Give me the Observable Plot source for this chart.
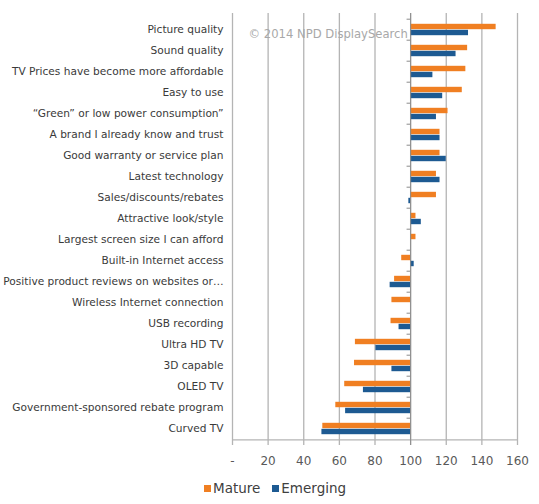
<!DOCTYPE html>
<html>
<head>
<meta charset="utf-8">
<script src="https://cdn.jsdelivr.net/npm/d3@7"></script>
<script src="https://cdn.jsdelivr.net/npm/@observablehq/plot@0.6"></script>
<style>
  html, body { margin: 0; padding: 0; background: #fff; }
  #chart { width: 539px; }
  .legend { display: flex; justify-content: flex-start; align-items: center; height: 32px; padding-left: 204px; font-family: "DejaVu Sans", sans-serif; font-size: 13.5px; color: #404040; }
  .legend span.sw { display: inline-block; width: 7px; height: 7px; margin-right: 2px; }
  .legend .item { display: flex; align-items: center; margin-right: 12px; }
</style>
</head>
<body>
<div id="chart"></div>
<script>
const categories = [
  "Picture quality",
  "Sound quality",
  "TV Prices have become more affordable",
  "Easy to use",
  "\u201cGreen\u201d or low power consumption\u201d",
  "A brand I already know and trust",
  "Good warranty or service plan",
  "Latest technology",
  "Sales/discounts/rebates",
  "Attractive look/style",
  "Largest screen size I can afford",
  "Built-in Internet access",
  "Positive product reviews on websites or\u2026",
  "Wireless Internet connection",
  "USB recording",
  "Ultra HD TV",
  "3D capable",
  "OLED TV",
  "Government-sponsored rebate program",
  "Curved TV"
];
const series = ["Mature", "Emerging"];
const mature   = [148, 132, 131, 129, 121, 116.5, 116.5, 114.5, 114.5, 103, 103, 95, 91, 89.5, 89, 69, 68.5, 63, 58, 50.7];
const emerging = [132.5, 125.5, 112.5, 118, 114.5, 116.5, 120, 116.5, 99, 106, 100, 102, 88.5, 100, 93.5, 80.5, 89.5, 73.5, 63.5, 50.2];
const xTicks = [0, 20, 40, 60, 80, 100, 120, 140, 160];
const baseline = 100;
const colors = ["#F07F22", "#1D5A92"];

const rows = [];
categories.forEach((c, i) => {
  rows.push({cat: c, series: "Mature", value: mature[i]});
  rows.push({cat: c, series: "Emerging", value: emerging[i]});
});

const H = 472, MT = 13, MB = 27;
const step = (H - MT - MB) / categories.length;
const barH = 6;

const plot = Plot.plot({
  width: 539,
  height: H,
  marginLeft: 232,
  marginRight: 22,
  marginTop: MT,
  marginBottom: MB,
  style: {fontFamily: "DejaVu Sans, sans-serif", background: "#fff"},
  x: {domain: [0, 160], ticks: xTicks},
  y: {domain: categories, padding: 0},
  color: {domain: series, range: colors},
  marks: [
    Plot.ruleX(xTicks, {stroke: "#b4b4b4", strokeWidth: 1.3}),
    Plot.ruleY([categories[categories.length - 1]], {x1: 0, x2: 160, dy: step / 2, stroke: "#b4b4b4", strokeWidth: 1.3}),
    Plot.barX(rows.filter(d => d.series === "Mature"), {
      y: "cat", x1: baseline, x2: "value", fill: colors[0],
      insetTop: step / 2 - barH, insetBottom: step / 2
    }),
    Plot.barX(rows.filter(d => d.series === "Emerging"), {
      y: "cat", x1: baseline, x2: "value", fill: colors[1],
      insetTop: step / 2, insetBottom: step / 2 - barH
    }),
    Plot.ruleX([baseline], {stroke: "#8c8c8c", strokeWidth: 1}),
    Plot.ruleY(categories, {y: d => d, x1: baseline - 2, x2: baseline, dy: -step / 2, stroke: "#8c8c8c"}),
    Plot.axisX({ticks: xTicks, tickSize: 0, tickPadding: 11, fontSize: 12, fill: "#595959", label: null,
      tickFormat: d => d === 0 ? "-" : String(d)}),
    Plot.axisY({tickSize: 0, tickPadding: 9, fontSize: 10.6, fill: "#3a3a3a", textOverflow: null, label: null}),
    Plot.text(["\u00a9 2014 NPD DisplaySearch"], {frameAnchor: "top-left", dx: 16, dy: 16, text: d => d,
      fill: "#a8a8a8", fontSize: 11.6, textAnchor: "start"})
  ]
});
document.getElementById("chart").appendChild(plot);

const legend = document.createElement("div");
legend.className = "legend";
series.forEach((s, i) => {
  const item = document.createElement("div");
  item.className = "item";
  const sw = document.createElement("span");
  sw.className = "sw";
  sw.style.background = colors[i];
  item.appendChild(sw);
  item.appendChild(document.createTextNode(s));
  legend.appendChild(item);
});
document.getElementById("chart").appendChild(legend);
</script>
</body>
</html>
